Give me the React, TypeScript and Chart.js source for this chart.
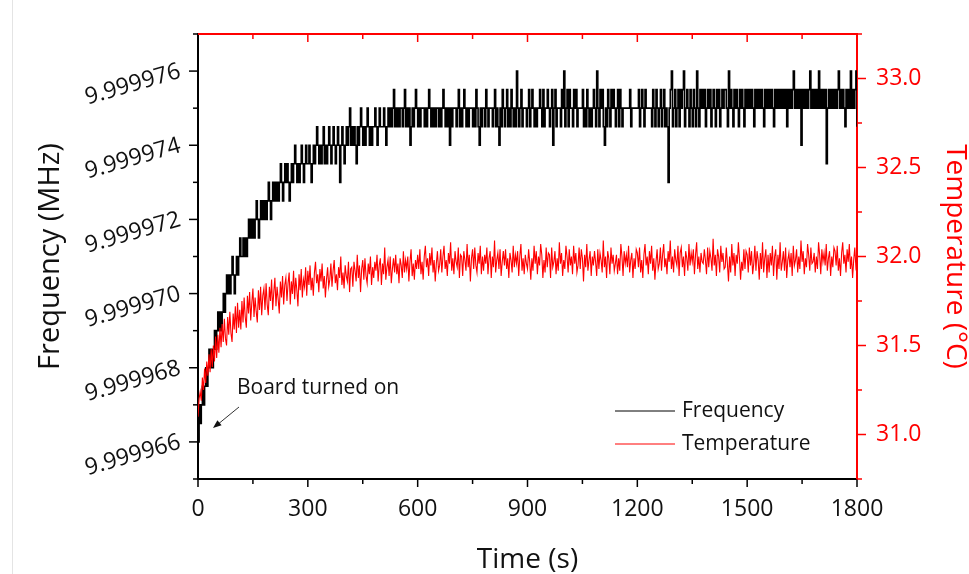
import React, { useEffect, useRef } from "react";
import { Chart, registerables } from "chart.js";

Chart.register(...registerables);

// ---------------- data ----------------
const SAMPLE_STEP_S = 3; // one reading every 3 s, from 0 s to 1800 s
const FREQ_BASE_MHZ = 9.99996; // frequency values below are offsets (Hz) above this

// one row = one minute (20 readings)
const freqOffsetHz = [
  6, 7, 6.5, 7, 7.5, 7, 7.5, 8, 7.5, 8, 8.5, 8, 8.5, 8, 8.5, 9, 8.5, 9, 9.5, 9,
  9.5, 9, 9.5, 10, 9.5, 10, 10.5, 10, 10.5, 10, 10.5, 11, 10.5, 10, 10.5, 11, 10.5, 11, 11.5, 11,
  11, 11.5, 11, 11.5, 11, 11.5, 12, 11.5, 12, 11.5, 12, 11.5, 12, 12.5, 12, 11.5, 12, 12.5, 12, 12.5,
  12, 12.5, 12, 12.5, 13, 12.5, 12, 12.5, 13, 12.5, 13, 12.5, 13, 12.5, 13, 13.5, 13, 12.5, 13, 13.5,
  13, 13.5, 13, 12.5, 13, 13.5, 13, 13.5, 14, 13.5, 13, 13.5, 13, 13.5, 14, 13.5, 13, 13.5, 14, 13.5,
  13.5, 14, 13.5, 13, 13.5, 14, 13.5, 14, 14.5, 14, 13.5, 14, 13.5, 14, 14.5, 13.5, 14, 13.5, 14, 14.5,
  14, 13.5, 14, 14.5, 14, 13.5, 14, 14.5, 14, 13, 14, 14.5, 14, 13.5, 14, 14.5, 14, 14.5, 15, 14,
  14.5, 14, 14.5, 14, 13.5, 14.5, 14, 14.5, 15, 14.5, 14, 14.5, 14, 14.5, 15, 14.5, 14, 14.5, 14, 14.5,
  14.5, 15, 14.5, 14, 14.5, 15, 14.5, 14.5, 14.5, 15, 14.5, 14, 14.5, 15, 14.5, 15, 14.5, 15, 15.5, 14.5,
  15, 14.5, 15, 14.5, 15, 15, 14.5, 15, 15.5, 14.5, 15, 14.5, 15, 14, 14.5, 15, 14.5, 15, 15.5, 15,
  14.5, 15, 14.5, 15, 15, 15, 14.5, 15, 14.5, 15, 15.5, 15, 14.5, 15, 14.5, 15, 14.5, 15, 15, 14.5,
  15, 14.5, 15, 15.5, 15, 14.5, 15, 14.5, 15, 14, 15, 14.5, 15, 15, 15, 14.5, 15, 15.5, 14.5, 15,
  14.5, 15, 15.5, 15, 14.5, 15, 14.5, 15, 15, 15, 14.5, 15, 14.5, 15.5, 15, 14.5, 14, 15, 14.5, 15,
  15, 14.5, 15.5, 15, 14.5, 15, 15, 15, 14.5, 15, 15.5, 14.5, 15, 14.5, 14, 15, 14.5, 15.5, 15, 14.5,
  15, 15.5, 14.5, 15, 14.5, 15.5, 15, 14.5, 15, 14.5, 16, 15, 14.5, 15, 15.5, 14.5, 15, 15, 15, 14.5,
  15, 15.5, 14.5, 15, 15.5, 15, 14.5, 15, 14.5, 15, 15, 15.5, 15, 14.5, 15.5, 14.5, 15, 15, 15.5, 15,
  14.5, 15, 15.5, 14, 15, 15.5, 14.5, 15, 15, 15, 14.5, 15.5, 15, 16, 14.5, 15, 15.5, 14.5, 15.5, 15,
  15, 14.5, 15.5, 15, 15.5, 14.5, 15, 15, 15, 15, 15.5, 14.5, 15, 14.5, 15.5, 15, 14.5, 15, 14.5, 15,
  15.5, 15, 14.5, 16, 15, 14.5, 15.5, 15, 15.5, 14.5, 14, 15, 14.5, 15.5, 15, 14.5, 15.5, 15, 15.5, 15,
  14.5, 15, 15.5, 14.5, 15.5, 15, 14.5, 15, 15, 15, 15, 15, 15, 15.5, 14.5, 15, 15, 15, 15, 15,
  15, 15.5, 14.5, 15, 15.5, 15, 14.5, 15.5, 15, 15, 15, 15, 15, 14.5, 15.5, 15, 14.5, 15.5, 15, 14.5,
  15, 15.5, 14.5, 15, 15.5, 14.5, 15, 14.5, 13, 15, 15.5, 16, 14.5, 15, 15.5, 14.5, 15, 15.5, 14.5, 15.5,
  15, 15.5, 16, 14.5, 15, 15.5, 15, 14.5, 15.5, 15, 14.5, 15.5, 15, 14.5, 16, 15, 14.5, 15.5, 15, 15.5,
  15, 15.5, 14.5, 15, 15.5, 15, 15.5, 14.5, 15, 15.5, 15, 14.5, 15.5, 15, 15.5, 14.5, 15, 15.5, 15, 15.5,
  15.5, 15, 14.5, 16, 15, 15.5, 15, 14.5, 15.5, 15, 15.5, 15, 14.5, 15.5, 15, 15.5, 15, 14.5, 15.5, 15,
  15.5, 15, 15.5, 15, 15.5, 15, 14.5, 15.5, 15, 15.5, 15, 15.5, 15, 15.5, 15, 14.5, 15.5, 15, 15.5, 15,
  15.5, 15, 15.5, 15, 14.5, 15.5, 15, 15.5, 15, 15.5, 15, 15.5, 15, 15.5, 15, 15.5, 14.5, 15.5, 15, 15.5,
  15, 15.5, 16, 15, 15.5, 15, 15.5, 15, 15.5, 14, 15.5, 15, 15.5, 15, 15.5, 15, 15.5, 16, 15, 15.5,
  15, 15.5, 15, 15.5, 15, 16, 15, 15.5, 15, 15.5, 15, 15.5, 13.5, 15, 15.5, 15, 15.5, 15, 15.5, 15,
  15.5, 15, 15.5, 16, 15, 15.5, 15, 15.5, 15, 14.5, 15.5, 15, 15.5, 15, 16, 15, 15.5, 15, 15.5, 16,
  14.5,
];

const temperatureC = [
  31.10, 31.20, 31.24, 31.19, 31.32, 31.25, 31.37, 31.29, 31.41, 31.33, 31.45, 31.35, 31.48, 31.38, 31.50, 31.41, 31.55, 31.43, 31.56, 31.46,
  31.60, 31.49, 31.62, 31.52, 31.65, 31.54, 31.50, 31.66, 31.56, 31.69, 31.57, 31.52, 31.68, 31.59, 31.72, 31.57, 31.74, 31.60, 31.70, 31.59,
  31.75, 31.63, 31.77, 31.66, 31.60, 31.78, 31.68, 31.80, 31.64, 31.74, 31.82, 31.66, 31.77, 31.69, 31.63, 31.81, 31.70, 31.83, 31.67, 31.78,
  31.82, 31.70, 31.85, 31.73, 31.67, 31.83, 31.75, 31.87, 31.70, 31.80, 31.88, 31.72, 31.83, 31.76, 31.68, 31.86, 31.77, 31.89, 31.73, 31.84,
  31.88, 31.75, 31.85, 31.91, 31.73, 31.86, 31.79, 31.92, 31.76, 31.88, 31.81, 31.72, 31.90, 31.81, 31.93, 31.77, 31.87, 31.83, 31.94, 31.78,
  31.92, 31.84, 31.95, 31.81, 31.88, 31.78, 31.91, 31.97, 31.85, 31.90, 31.80, 31.93, 31.86, 31.96, 31.82, 31.89, 31.77, 31.87, 31.94, 31.83,
  31.87, 31.96, 31.83, 31.92, 31.98, 31.85, 31.90, 31.81, 31.94, 31.88, 32.00, 31.84, 31.91, 31.82, 31.95, 31.89, 31.86, 31.97, 31.80, 31.93,
  31.94, 31.83, 31.97, 31.92, 31.86, 32.01, 31.88, 31.95, 31.80, 31.93, 31.98, 31.87, 31.99, 31.89, 31.85, 31.96, 31.90, 32.00, 31.84, 31.94,
  31.88, 31.97, 31.92, 32.01, 31.86, 31.95, 31.99, 31.84, 31.96, 31.90, 32.05, 31.87, 31.94, 31.98, 31.89, 32.00, 31.85, 31.93, 31.99, 31.91,
  32.01, 31.90, 31.96, 31.85, 31.99, 31.95, 31.88, 32.03, 31.91, 31.98, 31.93, 32.00, 31.86, 31.97, 32.04, 31.89, 31.96, 31.87, 31.98, 31.93,
  32.01, 31.93, 32.04, 31.90, 31.97, 31.87, 32.00, 32.06, 31.94, 31.99, 31.89, 32.02, 31.95, 32.05, 31.91, 31.98, 31.86, 31.96, 32.03, 31.92,
  31.95, 32.04, 31.91, 32.00, 32.06, 31.93, 31.98, 31.89, 32.02, 31.96, 32.08, 31.92, 31.99, 31.90, 32.03, 31.97, 31.94, 32.05, 31.88, 32.01,
  32.00, 31.89, 32.03, 31.98, 31.92, 32.07, 31.94, 32.01, 31.86, 31.99, 32.04, 31.93, 32.05, 31.95, 31.91, 32.02, 31.96, 32.06, 31.90, 32.00,
  31.92, 32.01, 31.96, 32.05, 31.90, 31.99, 32.03, 31.88, 32.00, 31.94, 32.09, 31.91, 31.98, 32.02, 31.93, 32.04, 31.89, 31.97, 32.03, 31.95,
  32.04, 31.93, 31.99, 31.88, 32.02, 31.98, 31.91, 32.06, 31.94, 32.01, 31.96, 32.03, 31.89, 32.00, 32.07, 31.92, 31.99, 31.90, 32.01, 31.96,
  31.93, 32.04, 31.97, 31.87, 31.99, 31.92, 32.06, 31.96, 32.03, 31.90, 32.00, 31.95, 32.07, 32.01, 31.88, 31.98, 31.91, 32.05, 31.94, 32.02,
  32.01, 31.88, 32.05, 31.94, 31.97, 32.03, 31.90, 31.99, 31.92, 32.08, 31.96, 32.02, 31.89, 31.98, 31.93, 32.06, 32.00, 31.91, 32.04, 31.95,
  32.00, 31.90, 32.06, 31.96, 32.02, 31.91, 31.95, 32.05, 31.93, 32.04, 31.99, 31.86, 32.01, 31.94, 32.07, 31.92, 31.98, 32.03, 31.89, 32.00,
  31.95, 32.03, 31.97, 31.89, 32.04, 31.93, 32.02, 31.98, 31.91, 32.09, 31.94, 32.00, 31.88, 32.03, 31.99, 31.90, 32.05, 31.96, 32.01, 31.92,
  31.96, 32.01, 31.90, 31.99, 31.92, 32.07, 32.00, 31.89, 32.03, 31.96, 32.01, 31.94, 32.06, 31.91, 31.98, 32.02, 31.88, 31.99, 31.93, 32.04,
  32.02, 31.94, 32.05, 31.91, 31.98, 31.88, 32.01, 32.07, 31.95, 32.00, 31.90, 32.03, 31.96, 32.06, 31.92, 31.99, 31.87, 31.97, 32.04, 31.93,
  31.96, 32.05, 31.92, 32.01, 32.07, 31.94, 31.99, 31.90, 32.03, 31.97, 32.09, 31.93, 32.00, 31.91, 32.04, 31.98, 31.95, 32.06, 31.89, 32.02,
  32.05, 31.94, 32.00, 31.89, 32.03, 31.99, 31.92, 32.07, 31.95, 32.02, 31.97, 32.04, 31.90, 32.01, 32.08, 31.93, 32.00, 31.91, 32.02, 31.97,
  31.96, 32.04, 31.98, 31.90, 32.05, 31.94, 32.03, 31.99, 31.92, 32.10, 31.95, 32.01, 31.89, 32.04, 32.00, 31.91, 32.06, 31.97, 32.02, 31.93,
  31.94, 32.05, 31.96, 31.86, 32.00, 31.91, 32.07, 31.95, 32.02, 31.89, 32.01, 31.96, 32.08, 31.99, 31.87, 31.97, 31.92, 32.04, 31.93, 32.03,
  32.01, 31.91, 32.05, 31.95, 32.03, 31.90, 31.96, 32.06, 31.92, 32.03, 31.98, 31.87, 32.02, 31.93, 32.08, 31.91, 31.99, 32.04, 31.88, 32.01,
  31.91, 32.02, 31.95, 32.06, 31.89, 32.00, 32.04, 31.87, 32.01, 31.93, 32.08, 31.92, 31.97, 32.03, 31.92, 32.05, 31.88, 31.98, 32.02, 31.94,
  32.02, 31.89, 32.06, 31.95, 31.98, 32.04, 31.91, 32.00, 31.93, 32.09, 31.97, 32.03, 31.90, 31.99, 31.94, 32.07, 32.01, 31.92, 32.05, 31.96,
  31.97, 32.02, 31.91, 32.00, 31.93, 32.08, 32.01, 31.90, 32.04, 31.97, 32.02, 31.95, 32.07, 31.92, 31.99, 32.03, 31.89, 32.00, 31.94, 32.05,
  32.03, 31.95, 32.06, 31.92, 31.99, 31.89, 32.02, 32.08, 31.96, 32.01, 31.91, 32.04, 31.97, 32.07, 31.93, 32.00, 31.88, 31.98, 32.05, 31.94,
  31.97,
];

const timeTicks = [0, 300, 600, 900, 1200, 1500, 1800];
const timeMinorTicks = [150, 450, 750, 1050, 1350, 1650];
const freqTicksHz = [6, 8, 10, 12, 14, 16];
const freqMinorTicksHz = [5, 7, 9, 11, 13, 15, 17];
const tempTicks = [31.0, 31.5, 32.0, 32.5, 33.0];
const tempMinorTicks = [30.75, 31.25, 31.75, 32.25, 32.75, 33.25];

const seriesLabels = ["Frequency", "Temperature"];
const annotationText = "Board turned on";

// ---------------- styling ----------------
const FONT = "'Open Sans', 'Noto Sans', sans-serif";
const RED = "#ff0000";
const INK = "#111111";

export default function App() {
  const ref = useRef<HTMLCanvasElement>(null);

  useEffect(() => {
    const canvas = ref.current;
    if (!canvas) return;

    const freqPoints = freqOffsetHz.map((v, i) => ({ x: i * SAMPLE_STEP_S, y: v }));
    const tempPoints = temperatureC.map((v, i) => ({ x: i * SAMPLE_STEP_S, y: v }));

    const framePlugin = {
      id: "frame",
      afterDraw(chart: any) {
        const { ctx, chartArea: a, scales } = chart;
        const sx = scales.x;
        const sy = scales.y;
        const sr = scales.y1;
        const seg = (x1: number, y1: number, x2: number, y2: number) => {
          ctx.beginPath();
          ctx.moveTo(x1, y1);
          ctx.lineTo(x2, y2);
          ctx.stroke();
        };
        ctx.save();
        ctx.lineCap = "butt";

        // top border (red)
        ctx.strokeStyle = RED;
        ctx.lineWidth = 2;
        seg(a.left, a.top, a.right + 1, a.top);

        // bottom ticks (outward)
        ctx.strokeStyle = "#000";
        ctx.lineWidth = 1.5;
        timeTicks.forEach((v) => {
          const p = sx.getPixelForValue(v);
          seg(p, a.bottom, p, a.bottom + 8);
        });
        timeMinorTicks.forEach((v) => {
          const p = sx.getPixelForValue(v);
          seg(p, a.bottom, p, a.bottom + 5);
        });
        // left ticks (outward)
        freqTicksHz.forEach((v) => {
          const p = sy.getPixelForValue(v);
          seg(a.left, p, a.left - 9, p);
        });
        freqMinorTicksHz.forEach((v) => {
          const p = sy.getPixelForValue(v);
          seg(a.left, p, a.left - 5, p);
        });
        // right ticks (outward, red)
        ctx.strokeStyle = RED;
        tempTicks.forEach((v) => {
          const p = sr.getPixelForValue(v);
          seg(a.right, p, a.right + 9, p);
        });
        tempMinorTicks.forEach((v) => {
          const p = sr.getPixelForValue(v);
          seg(a.right, p, a.right + 5, p);
        });
        // top ticks (inward, red)
        timeTicks.slice(1, -1).forEach((v) => {
          const p = sx.getPixelForValue(v);
          seg(p, a.top, p, a.top + 8);
        });
        timeMinorTicks.forEach((v) => {
          const p = sx.getPixelForValue(v);
          seg(p, a.top, p, a.top + 5);
        });

        // legend (inside plot, bottom right)
        ctx.font = `21px ${FONT}`;
        ctx.textBaseline = "middle";
        ctx.textAlign = "left";
        const legendRows = [411, 444];
        chart.data.datasets
          .slice()
          .sort((d1: any, d2: any) => seriesLabels.indexOf(d1.label) - seriesLabels.indexOf(d2.label))
          .forEach((ds: any, i: number) => {
            const yy = legendRows[i];
            ctx.strokeStyle = ds.borderColor;
            ctx.lineWidth = 1;
            seg(615, yy, 675, yy);
            ctx.fillStyle = INK;
            ctx.fillText(ds.label, 682, yy);
          });

        // annotation
        ctx.fillStyle = INK;
        ctx.font = `21px ${FONT}`;
        ctx.fillText(annotationText, 237, 388);
        ctx.strokeStyle = "#333";
        ctx.lineWidth = 1;
        const tipX = 213, tipY = 428, tailX = 239, tailY = 407;
        seg(tailX, tailY, tipX + 4, tipY - 3);
        const ang = Math.atan2(tipY - tailY, tipX - tailX);
        ctx.fillStyle = "#111";
        ctx.beginPath();
        ctx.moveTo(tipX, tipY);
        ctx.lineTo(tipX - 9 * Math.cos(ang - 0.38), tipY - 9 * Math.sin(ang - 0.38));
        ctx.lineTo(tipX - 9 * Math.cos(ang + 0.38), tipY - 9 * Math.sin(ang + 0.38));
        ctx.closePath();
        ctx.fill();

        ctx.restore();
      },
    };

    const chart = new Chart(canvas, {
      type: "line",
      data: {
        datasets: [
          {
            label: seriesLabels[0],
            data: freqPoints,
            yAxisID: "y",
            borderColor: "#000000",
            borderWidth: 1.6,
            pointRadius: 0,
            tension: 0,
            stepped: true,
            order: 1,
          },
          {
            label: seriesLabels[1],
            data: tempPoints,
            yAxisID: "y1",
            borderColor: RED,
            borderWidth: 1.1,
            pointRadius: 0,
            tension: 0,
            order: 0,
          },
        ],
      },
      options: {
        animation: false,
        responsive: false,
        maintainAspectRatio: false,
        layout: { padding: { top: 34, left: 0, right: 0, bottom: 0 } },
        plugins: { legend: { display: false }, tooltip: { enabled: false } },
        scales: {
          x: {
            type: "linear",
            position: "bottom",
            min: 0,
            max: 1800,
            afterBuildTicks: (s: any) => {
              s.ticks = timeTicks.map((v) => ({ value: v }));
            },
            afterFit: (s: any) => {
              s.height = 95;
              s.paddingLeft = 0;
              s.paddingRight = 0;
            },
            grid: { display: false },
            border: { display: true, color: "#000", width: 2 },
            ticks: {
              callback: (v: any) => String(v),
              font: { family: FONT, size: 23 },
              color: INK,
              padding: 9,
              maxRotation: 0,
              minRotation: 0,
              autoSkip: false,
            },
            title: {
              display: true,
              text: "Time (s)",
              font: { family: FONT, size: 28, lineHeight: 1 },
              color: INK,
              padding: 0,
            },
          },
          y: {
            type: "linear",
            position: "left",
            min: 5,
            max: 17,
            afterBuildTicks: (s: any) => {
              s.ticks = freqTicksHz.map((v) => ({ value: v }));
            },
            afterFit: (s: any) => {
              s.width = 198;
              s.paddingTop = 0;
              s.paddingBottom = 0;
            },
            grid: { display: false },
            border: { display: true, color: "#000", width: 2 },
            ticks: {
              callback: (v: any) => (FREQ_BASE_MHZ + Number(v) * 1e-6).toFixed(6),
              font: { family: FONT, size: 23 },
              color: INK,
              padding: 10,
              minRotation: 16,
              maxRotation: 16,
              autoSkip: false,
            },
            title: {
              display: true,
              text: "Frequency (MHz)",
              font: { family: FONT, size: 29, lineHeight: 1 },
              color: INK,
              padding: { top: 36, bottom: 0 },
            },
          },
          y1: {
            type: "linear",
            position: "right",
            min: 30.75,
            max: 33.25,
            afterBuildTicks: (s: any) => {
              s.ticks = tempTicks.map((v) => ({ value: v }));
            },
            afterFit: (s: any) => {
              s.width = 112;
              s.paddingTop = 0;
              s.paddingBottom = 0;
            },
            grid: { display: false },
            border: { display: true, color: RED, width: 2 },
            ticks: {
              callback: (v: any) => Number(v).toFixed(1),
              font: { family: FONT, size: 23 },
              color: RED,
              padding: 11,
              autoSkip: false,
            },
            title: {
              display: true,
              text: "Temperature (°C)",
              font: { family: FONT, size: 28, lineHeight: 1 },
              color: RED,
              padding: { top: 0, bottom: 0 },
            },
          },
        },
      },
      plugins: [framePlugin],
    } as any);

    return () => chart.destroy();
  }, []);

  return (
    <div
      style={{
        position: "fixed",
        left: 0,
        top: 0,
        width: 969,
        height: 574,
        background: "#ffffff",
        overflow: "hidden",
      }}
    >
      <div
        style={{
          position: "absolute",
          left: 12,
          top: 0,
          width: 1,
          height: 574,
          background: "#e4e4e4",
        }}
      />
      <canvas
        ref={ref}
        width={969}
        height={574}
        style={{ position: "absolute", left: 0, top: 0, display: "block" }}
      />
    </div>
  );
}
